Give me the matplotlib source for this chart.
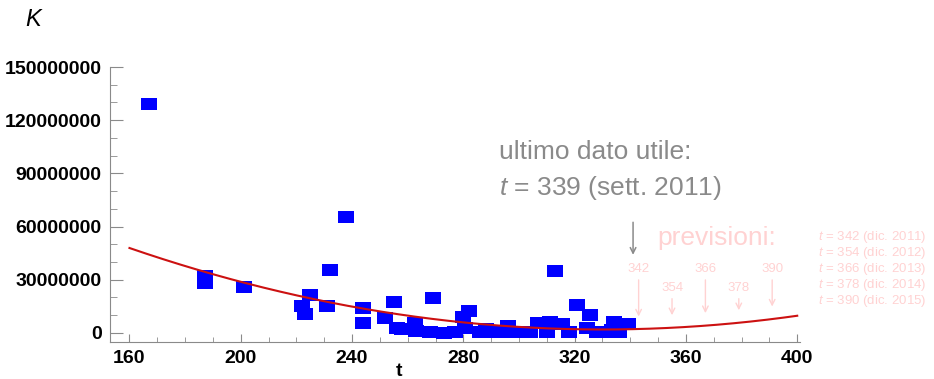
import numpy as np
import matplotlib
matplotlib.use("Agg")
import matplotlib.pyplot as plt

plt.rcParams['font.family'] = ['Liberation Sans', 'DejaVu Sans']
plt.rcParams['mathtext.fontset'] = 'custom'
plt.rcParams['mathtext.it'] = 'Liberation Sans:italic'
plt.rcParams['mathtext.rm'] = 'Liberation Sans'

# observed data (t, K)
t_obs = [167, 187, 187, 201, 222, 223, 225, 231, 232, 238, 244, 244, 252, 255,
         256, 258, 262.5, 263, 268, 269, 273, 277, 280, 280.5, 282, 286, 288,
         290, 292, 296, 297, 298, 301, 304, 307, 310, 311, 313, 315.5, 318,
         321, 324.5, 325.5, 328, 331, 333.5, 334, 336, 339]
K_obs = [129e6, 32e6, 28e6, 26e6, 15e6, 10.5e6, 21.5e6, 15e6, 35.5e6, 65.5e6,
         14e6, 5.5e6, 8.5e6, 17.5e6, 2.8e6, 2.5e6, 5.6e6, 1.2e6, 0.5e6, 19.7e6,
         0.2e6, 0.5e6, 9e6, 3e6, 12.5e6, 0.5e6, 2.5e6, 0.5e6, 0.5e6, 4e6,
         0.5e6, 0.3e6, 0.8e6, 0.3e6, 5.5e6, 0.5e6, 6e6, 35e6, 5e6, 0.5e6,
         16e6, 3e6, 10e6, 0.5e6, 0.8e6, 1.7e6, 6e6, 0.5e6, 5e6]

# points
t_fit = [160, 200, 240, 280, 320, 360, 400]
K_fit = [48e6, 28.8e6, 14.7e6, 6e6, 2.2e6, 3.5e6, 9.6e6]

# forecasts
t_prev = [342, 354, 366, 378, 390]
prev_dates = ["dic. 2011", "dic. 2012", "dic. 2013", "dic. 2014", "dic. 2015"]
t_last = 339

xticks = [160, 200, 240, 280, 320, 360, 400]
yticks = [0, 30000000, 60000000, 90000000, 120000000, 150000000]

gray = '#8a8a8a'
pink = '#ffd2d2'

fig = plt.figure(figsize=(9.34, 3.79), dpi=100)
ax = fig.add_axes([110/934, 1-342/379, 690/934, 275/379])

coef = np.polyfit(t_fit, K_fit, 2)
tt = np.linspace(160, 400, 200)

rect = [(-1.4, -1), (1.4, -1), (1.4, 1), (-1.4, 1), (-1.4, -1)]
ax.plot(t_obs, K_obs, linestyle='none', marker=rect, markersize=11.5,
        color='#0000ff', markeredgewidth=0, zorder=2)
ax.plot(tt, np.polyval(coef, tt), color='#cc1111', lw=1.5, zorder=3)

ax.set_xlim(153, 401)
ax.set_ylim(-5.1e6, 150e6)
ax.set_xticks(xticks)
ax.set_yticks(yticks)
ax.set_yticklabels([str(v) for v in yticks])
ax.set_xticks(np.arange(160, 401, 10), minor=True)
ax.set_yticks(np.arange(0, 150e6 + 1, 10e6), minor=True)

for s in ['top', 'right']:
    ax.spines[s].set_visible(False)
for s in ['left', 'bottom']:
    ax.spines[s].set_color(gray)
ax.tick_params(axis='both', which='both', direction='in', color=gray,
               labelsize=14)
ax.tick_params(axis='y', which='major', length=9, pad=6)
ax.tick_params(axis='y', which='minor', length=5)
ax.tick_params(axis='x', which='major', length=6, pad=6)
ax.tick_params(axis='x', which='minor', length=3.5)
for lab in ax.get_xticklabels() + ax.get_yticklabels():
    lab.set_fontweight('bold')

fig.text(399/934, 1-372/379, 't', fontsize=14, fontweight='bold',
         ha='center', va='center')
fig.text(33/934, 1-20/379, 'K', fontsize=17, style='italic',
         ha='center', va='center')

# last useful data
ax.text(292.8, 102e6, 'ultimo dato utile:', fontsize=19, color=gray,
        ha='left', va='center')
ax.text(292.8, 81.5e6, '$t$ = %d (sett. 2011)' % t_last, fontsize=19,
        color=gray, ha='left', va='center')
ax.annotate('', xy=(341, 42.5e6), xytext=(341, 64e6),
            arrowprops=dict(arrowstyle='->', color=gray, lw=1.1))

# forecasts
ax.text(371, 53.5e6, 'previsioni:', fontsize=19, color=pink,
        ha='center', va='center')
for i, tp in enumerate(t_prev):
    xp = tp + 1
    kp = np.polyval(coef, xp)
    top = 36e6 if i % 2 == 0 else 25.4e6
    ax.text(xp, top, str(tp), fontsize=9.5, color=pink,
            ha='center', va='center')
    ax.annotate('', xy=(xp, kp + 5.5e6), xytext=(xp, top - 4.5e6),
                arrowprops=dict(arrowstyle='->', color=pink, lw=1.0))
    fig.text(818/934, 1-(237 + 16*i)/379,
             '$t$ = %d (%s)' % (tp, prev_dates[i]),
             fontsize=9.5, color=pink, ha='left', va='center')

fig.savefig('out.png', dpi=100)
